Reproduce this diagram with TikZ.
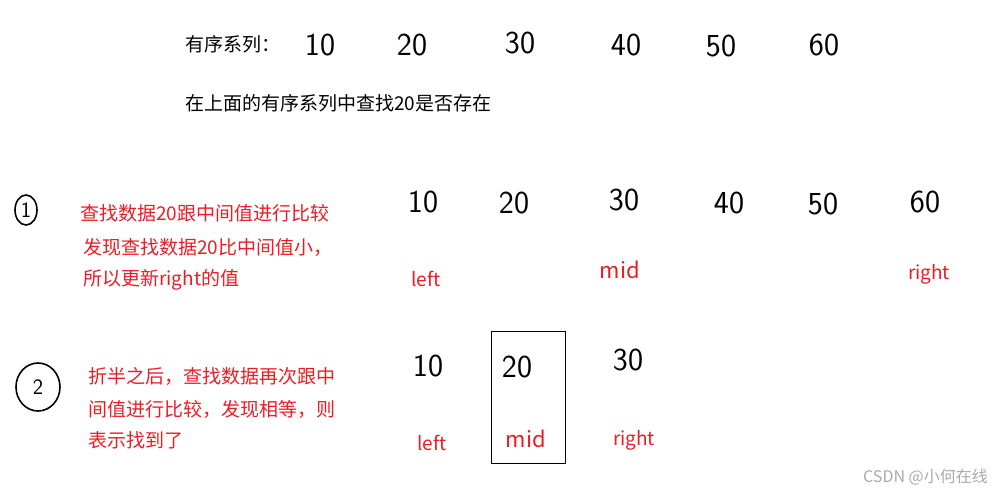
\documentclass[tikz,border=0pt]{standalone}
\usepackage{fontspec}
\usetikzlibrary{shapes.geometric}
\setmainfont{Noto Sans CJK SC}
\newfontfamily\handfont{Latin Modern Sans}
\definecolor{mred}{RGB}{237,28,36}
\definecolor{wm}{RGB}{170,170,170}
\begin{document}
\begin{tikzpicture}[x=1pt,y=-1pt,
  cn/.style={inner sep=0pt,anchor=west,font=\fontsize{19}{19}\selectfont},
  rn/.style={cn,text=mred},
  num/.style={inner sep=0pt,font=\handfont\fontsize{32}{32}\selectfont},
  lab/.style={inner sep=0pt,text=mred,font=\fontsize{19}{19}\selectfont},
  midl/.style={inner sep=0pt,text=mred,font=\itshape\fontsize{22}{22}\selectfont},
  circ/.style={draw,line width=1.6pt,ellipse,inner sep=0pt,font=\handfont\fontsize{22}{22}\selectfont}]
\useasboundingbox (0,0) rectangle (1004,496);
% top
\node[cn] (t1) at (185,44) {有序系列：};
\node[num] (a1) at (320,45) {10};
\node[num] (a2) at (412,45) {20};
\node[num] (a3) at (520,43) {30};
\node[num] (a4) at (626,45) {40};
\node[num] (a5) at (721,46) {50};
\node[num] (a6) at (824,45) {60};
\node[cn] (t2) at (185,103) {在上面的有序系列中查找20是否存在};
% step 1
\node[circ,minimum width=22pt,minimum height=30pt] (c1) at (26,210) {1};
\node[rn] (r11) at (80,213) {查找数据20跟中间值进行比较};
\node[rn] (r12) at (83,247) {发现查找数据20比中间值小，};
\node[rn] (r13) at (83,280) {所以更新right的值};
\node[num] (b1) at (423,202) {10};
\node[num] (b2) at (514,203) {20};
\node[num] (b3) at (624,200) {30};
\node[num] (b4) at (729,203) {40};
\node[num] (b5) at (823,204) {50};
\node[num] (b6) at (925,202) {60};
\node[lab] (l1) at (426,279) {left};
\node[midl] (m1) at (620,270) {mid};
\node[lab] (g1) at (929,274) {right};
% step 2
\node[circ,minimum width=44pt,minimum height=48pt] (c2) at (38,387) {2};
\node[rn] (r21) at (88,376) {折半之后，查找数据再次跟中};
\node[rn] (r22) at (88,409) {间值进行比较，发现相等，则};
\node[rn] (r23) at (88,440) {表示找到了};
\node[num] (d1) at (428,366) {10};
\node[num] (d2) at (517,367) {20};
\node[num] (d3) at (628,360) {30};
\node[draw,line width=0.8pt,minimum width=74pt,minimum height=132pt,inner sep=0pt] (box) at (528,397) {};
\node[lab] (l2) at (432,443) {left};
\node[midl] (m2) at (526,439) {mid};
\node[lab] (g2) at (634,440) {right};
% watermark
\node[inner sep=0pt,anchor=east,text=wm,font=\fontsize{16}{16}\selectfont] (w) at (988,477) {CSDN @小何在线};
\end{tikzpicture}
\end{document}
